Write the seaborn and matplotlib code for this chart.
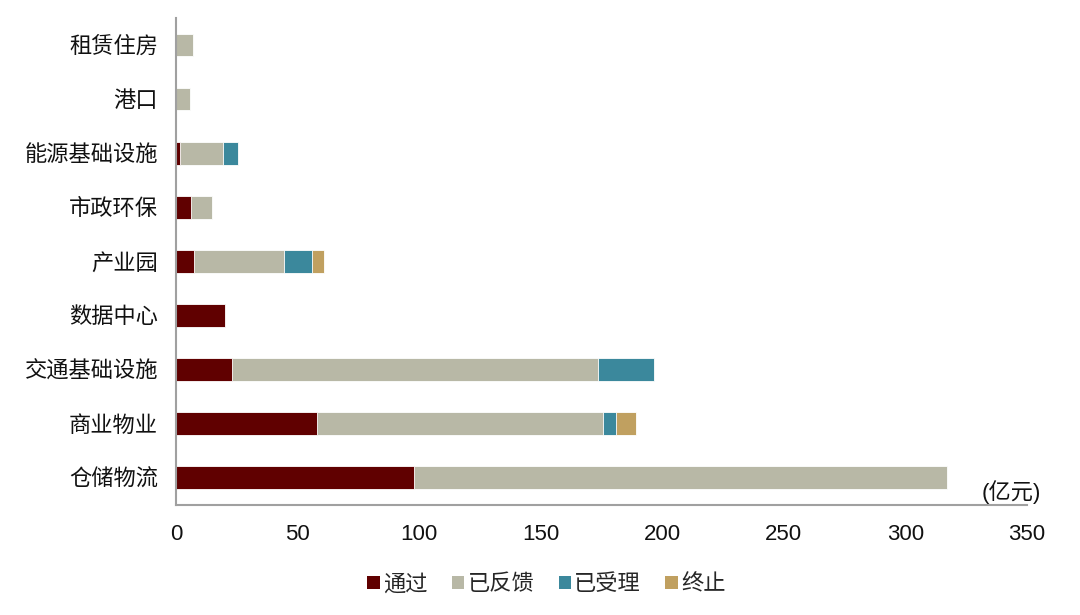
import matplotlib
matplotlib.use("Agg")
import matplotlib.pyplot as plt
import seaborn as sns
import pandas as pd
import numpy as np
from matplotlib.patches import Patch

categories = ["租赁住房", "港口", "能源基础设施", "市政环保", "产业园", "数据中心", "交通基础设施", "商业物业", "仓储物流"]
passed   = [0.0, 0.0, 1.8, 6.3, 7.4, 20.0, 23.0, 58.0, 98.0]
feedback = [7.0, 5.7, 17.7, 8.4, 37.2, 0.0, 150.5, 117.5, 219.0]
accepted = [0.0, 0.0, 6.0, 0.0, 11.4, 0.0, 23.0, 5.5, 0.0]
stopped  = [0.0, 0.0, 0.0, 0.0, 5.0, 0.0, 0.0, 8.0, 0.0]
series_names = ["通过", "已反馈", "已受理", "终止"]
colors = ["#600000", "#B8B8A6", "#3B889C", "#C0A060"]
xticks = [0, 50, 100, 150, 200, 250, 300, 350]
unit_label = "(亿元)"

sns.set_theme(style="white")
plt.rcParams['font.family'] = ['Liberation Sans', 'Noto Sans CJK SC', 'DejaVu Sans']

FS = 16

fig = plt.figure(figsize=(10.8, 6.15), dpi=100)
ax = fig.add_axes([0.163, 0.179, 0.788, 0.792])

vals = np.array([passed, feedback, accepted, stopped])
cum = np.cumsum(vals, axis=0)

# draw from outermost cumulative layer to innermost so that each segment shows
for i in range(3, -1, -1):
    df = pd.DataFrame({"cat": categories, "val": cum[i]})
    sns.barplot(data=df, y="cat", x="val", orient="h", color=colors[i],
                width=0.42, edgecolor="white", linewidth=0.6, ax=ax,
                saturation=1, order=categories)

ax.set_xlim(0, 350)
ax.set_ylim(len(categories) - 0.5, -0.5)
ax.set_xticks(xticks)
ax.set_xticklabels([str(t) for t in xticks], fontsize=FS, color="#111111")
ax.set_yticks(range(len(categories)))
ax.set_yticklabels(categories, fontsize=FS, color="#111111")
ax.set_yticks(np.arange(len(categories) + 1) - 0.5, minor=True)
ax.tick_params(axis="y", which="major", length=0, pad=13)
ax.tick_params(axis="y", which="minor", length=6, width=1.2, color="#A0A0A0", direction="out")
ax.tick_params(axis="x", which="major", length=0, pad=14)
ax.set_xlabel("")
ax.set_ylabel("")

for s in ["top", "right"]:
    ax.spines[s].set_visible(False)
for s in ["left", "bottom"]:
    ax.spines[s].set_color("#A0A0A0")
    ax.spines[s].set_linewidth(1.5)

ax.text(0.982, 0.027, unit_label, transform=ax.transAxes, ha="center", va="center",
        fontsize=FS, color="#111111")

handles = [Patch(facecolor=c, edgecolor="none", label=n) for c, n in zip(colors, series_names)]
fig.legend(handles=handles, loc="center", bbox_to_anchor=(0.506, 0.049), ncol=4,
           frameon=False, fontsize=FS, handlelength=0.55, handleheight=0.55,
           handletextpad=0.15, columnspacing=1.1)

fig.savefig("out.png", dpi=100)
